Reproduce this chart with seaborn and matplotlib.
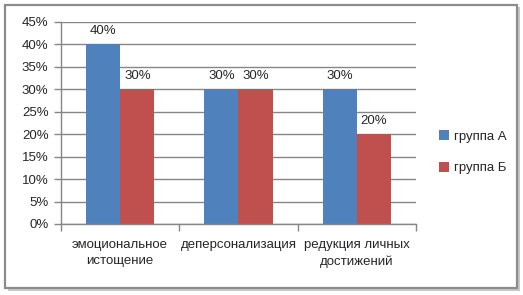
import matplotlib
matplotlib.use("Agg")
import matplotlib.pyplot as plt
import seaborn as sns
import pandas as pd
from matplotlib.patches import Rectangle

categories = ["эмоциональное\nистощение", "деперсонализация", "редукция личных\nдостижений"]
series_names = ["группа А", "группа Б"]
group_a = [40, 30, 30]
group_b = [30, 30, 20]
y_ticks = [0, 5, 10, 15, 20, 25, 30, 35, 40, 45]
colors = ["#4F81BD", "#C0504D"]

df = pd.DataFrame({
    "cat": categories * 2,
    "series": [series_names[0]] * 3 + [series_names[1]] * 3,
    "value": group_a + group_b,
})

sns.set_style("white")
plt.rcParams["font.family"] = ["Liberation Sans", "DejaVu Sans"]
FS = 9.5

W, H = 523, 295
fig = plt.figure(figsize=(W / 100, H / 100), dpi=100)

# border with shadow
fig.patches.append(Rectangle((8 / W, 1 - 291 / H), 512 / W, 284 / H, transform=fig.transFigure,
                             facecolor="#c8c8c8", edgecolor="none", zorder=-2))
fig.patches.append(Rectangle((5 / W, 1 - 288 / H), 512 / W, 283 / H, transform=fig.transFigure,
                             facecolor="white", edgecolor="#8c8c8c", linewidth=1.6, zorder=-1))

ax = fig.add_axes([61 / W, 1 - 224 / H, (416 - 61) / W, (224 - 22) / H])
ax.set_facecolor("none")
sns.barplot(data=df, x="cat", y="value", hue="series", palette=colors, ax=ax,
            width=0.58, saturation=1, gap=0, edgecolor="none", legend=True)

ax.set_ylim(0, 45)
ax.set_xlim(-0.5, 2.5)
ax.set_yticks(y_ticks)
ax.set_yticklabels([f"{v}%" for v in y_ticks], fontsize=FS)
ax.yaxis.grid(True, color="#868686", linewidth=1)
ax.set_axisbelow(True)
ax.set_xlabel("")
ax.set_ylabel("")
ax.tick_params(axis="y", length=5, width=1, color="#868686", pad=4, left=True)
ax.set_xticks([0, 1, 2])
ax.set_xticklabels(categories, fontsize=FS, linespacing=1.45)
ax.tick_params(axis="x", length=0, pad=11)
ax.set_xticks([-0.5, 0.5, 1.5, 2.5], minor=True)
ax.tick_params(axis="x", which="minor", length=5, width=1, color="#868686", bottom=True)
for s in ["top", "right"]:
    ax.spines[s].set_visible(False)
for s in ["left", "bottom"]:
    ax.spines[s].set_color("#868686")
    ax.spines[s].set_linewidth(1)

for cont in ax.containers:
    ax.bar_label(cont, labels=[f"{v:.0f}%" for v in cont.datavalues], padding=5, fontsize=FS)

leg = ax.legend(loc="upper left", bbox_to_anchor=(434 / W, 1 - 125 / H), bbox_transform=fig.transFigure,
                frameon=False, fontsize=FS, handlelength=0.75, handleheight=0.75,
                handletextpad=0.35, labelspacing=1.45, borderaxespad=0)

fig.savefig("out.png", dpi=100)
